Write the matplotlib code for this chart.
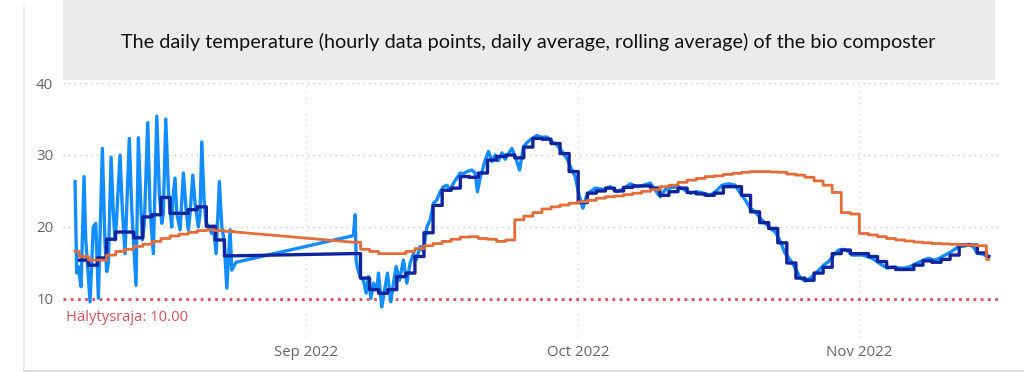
import numpy as np
import pandas as pd
import matplotlib
matplotlib.use("Agg")
import matplotlib.pyplot as plt
from matplotlib.patches import Rectangle
from matplotlib.lines import Line2D

# ---------------- data ----------------
BASE = pd.Timestamp("2022-08-01")

# hourly readings: time in days since 2022-08-01, temperature in °C
hourly_day = [
    5.53, 5.71, 5.89, 6.19, 6.52, 6.71, 6.82, 7.18, 7.54, 7.81, 8.10, 8.54, 8.83, 9.02,
    9.20, 9.50, 9.75, 9.94, 10.12, 10.49, 10.74, 11.04, 11.51, 11.78, 12.25, 12.51,
    12.80, 12.95, 13.17, 13.54, 13.80, 14.16, 14.54, 14.82, 15.09, 15.26, 15.53, 15.82,
    16.00, 16.19, 16.30, 16.55, 16.74, 17.11, 17.47, 17.77, 18.02, 18.21, 18.51, 18.76,
    19.12, 19.31, 19.50, 19.75, 19.97, 20.23, 20.60, 20.78, 21.08, 21.44, 21.71, 21.96,
    22.26, 22.62, 22.81, 23.28,
    36.04, 36.22, 36.41, 36.52, 36.66, 36.96, 37.32, 37.62, 37.87, 38.14, 38.43, 38.80,
    38.98, 39.35, 39.72, 39.97, 40.34, 40.63, 40.93, 41.29, 41.73, 42.11, 42.47, 42.84,
    43.13, 43.58, 43.94, 44.31, 44.68, 45.04, 45.42, 45.78, 46.15, 46.52, 46.88, 47.25,
    47.62, 47.99, 48.35, 48.73, 49.28, 49.64, 49.89, 50.19, 50.75, 51.11, 51.48, 51.85,
    52.21, 52.59, 52.95, 53.31, 53.69, 54.05, 54.53, 54.97, 55.34, 55.90, 56.45, 57.00,
    57.55, 58.10, 58.65, 59.20, 59.76, 60.31, 60.67, 61.04, 61.52, 61.89, 62.33, 62.88,
    63.43, 63.79, 64.53, 65.27, 66.00, 66.74, 67.48, 68.21, 68.94, 69.68, 70.05, 70.60,
    71.34, 72.07, 72.80, 73.36, 74.09, 74.82, 75.56, 76.30, 76.85, 77.58, 78.32, 78.87,
    79.42, 79.97, 80.52, 81.07, 81.63, 82.18, 82.73, 83.28, 83.83, 84.38, 84.93, 85.49,
    86.04, 86.59, 86.95, 87.50, 88.06, 88.61, 89.16, 89.71, 90.26, 90.81, 91.19, 91.74,
    92.29, 92.84, 93.39, 93.94, 94.50, 95.05, 95.77, 96.51, 97.06, 97.61, 98.36, 99.08,
    99.64, 100.19, 100.74, 101.29, 101.84, 102.39, 102.95, 103.50, 104.05, 104.60,
    104.97, 105.52, 106.25,
]
hourly_temp = [
    26.3, 13.6, 14.5, 11.7, 27.0, 18.2, 16.3, 9.6, 20.0, 20.5, 10.1, 30.9, 17.7, 13.8,
    15.0, 29.7, 21.9, 18.2, 21.4, 30.0, 22.4, 16.3, 32.3, 22.4, 11.9, 32.4,
    22.4, 18.2, 20.5, 34.5, 22.4, 16.3, 35.4, 24.7, 20.5, 21.9, 35.0, 25.1,
    22.4, 20.0, 23.7, 26.8, 21.9, 19.6, 27.5, 22.4, 19.6, 21.9, 27.2, 23.3,
    20.0, 21.9, 31.8, 23.7, 20.7, 20.0, 19.1, 20.0, 16.3, 26.3, 20.0, 18.2,
    11.5, 19.6, 14.0, 15.1,
    18.75, 18.9, 21.7, 15.4, 14.3, 13.1, 12.6, 10.8, 13.1, 10.1, 12.2, 11.25,
    13.6, 8.9, 11.7, 13.6, 9.6, 12.2, 14.5, 12.6, 15.4, 12.2, 15.0, 16.3,
    15.4, 17.3, 16.6, 20.0, 21.0, 23.3, 23.75, 24.9, 25.6, 25.8, 25.1, 26.1,
    26.8, 27.5, 27.4, 27.7, 27.9, 27.5, 24.9, 26.8, 29.3, 30.5, 29.1, 30.0,
    29.2, 30.3, 29.4, 30.2, 30.9, 29.8, 27.9, 31.15, 31.7, 32.3, 32.7, 32.45,
    32.5, 31.85, 31.4, 30.5, 29.5, 27.9, 27.0, 24.7, 22.6, 24.2, 24.9, 25.4,
    25.3, 25.2, 25.6, 24.9, 25.3, 26.0, 25.6, 25.8, 26.1, 24.8, 24.2, 25.2,
    25.5, 25.6, 25.1, 24.7, 24.9, 24.7, 24.4, 25.1, 25.8, 26.0, 25.8, 24.7,
    23.75, 22.6, 22.1, 21.2, 20.5, 19.8, 19.3, 18.0, 16.3, 15.4, 14.3, 12.9,
    12.5, 12.9, 13.3, 14.0, 14.7, 15.2, 16.1, 16.8, 16.9, 16.6, 16.1, 16.1,
    16.1, 15.9, 15.65, 15.2, 14.7, 14.3, 14.4, 14.3, 14.3, 14.5, 15.0, 15.4,
    15.65, 15.4, 15.6, 16.0, 16.35, 16.8, 17.3, 17.3, 17.6, 17.2,
    16.35, 16.25, 15.9,
]

# daily average
daily_dates = list(pd.date_range("2022-08-07", "2022-08-24")) + \
              list(pd.date_range("2022-09-06", "2022-11-15"))
daily_avg = [
    15.4, 14.7, 15.7, 18.3, 19.3, 19.3, 18.5, 21.4, 21.7, 24.1, 21.9, 21.9, 22.4, 22.8,
    20.1, 18.2, 16.0, 16.0,
    16.3, 12.9, 11.3, 10.8, 11.3, 13.1, 13.6, 15.9, 19.2, 23.0, 25.1, 25.4, 27.0, 26.9,
    27.5, 29.3, 29.8, 30.0, 29.6, 31.1, 32.3, 32.2, 31.6, 30.2, 27.7,
    23.4, 24.7, 25.0, 25.4, 25.0, 25.5, 25.7, 25.7, 25.4, 24.4, 24.9, 25.4, 24.8, 24.6,
    24.4, 24.7, 25.6, 25.6, 24.4, 22.1, 20.6, 19.8, 17.8, 15.0, 12.9, 12.6, 13.6, 14.4,
    16.3, 16.8, 16.3,
    16.3, 15.9, 15.2, 14.4, 14.1, 14.1, 14.7, 15.3, 15.1, 15.5, 16.1, 17.5, 17.5, 16.4,
    15.9,
]

# rolling average
rolling_dates = list(pd.date_range("2022-08-06", "2022-08-24")) + \
                list(pd.date_range("2022-09-06", "2022-11-15"))
rolling_avg = [
    16.6, 15.9, 15.4, 15.4, 16.1, 16.6, 16.9, 17.3, 17.6, 18.0, 18.4, 18.75, 19.0, 19.25,
    19.5, 19.6, 19.5, 19.4, 19.3,
    17.9, 16.9, 16.6, 16.3, 16.3, 16.3, 16.6, 17.0, 17.4, 17.7, 18.0, 18.3, 18.6, 18.65,
    18.4, 18.3, 18.0, 18.2, 21.0, 21.5, 22.0, 22.5, 22.8, 23.05, 23.3,
    23.5, 23.7, 24.0, 24.2, 24.3, 24.5, 24.7, 24.95, 25.2, 25.6, 25.8, 26.2, 26.5, 26.75,
    27.0, 27.1, 27.3, 27.45, 27.6, 27.7, 27.7, 27.65, 27.6, 27.35, 27.2, 26.9, 26.4,
    25.8, 24.8, 22.0, 21.8,
    19.1, 18.9, 18.65, 18.4, 18.2, 18.05, 17.9, 17.8, 17.7, 17.65, 17.6, 17.5, 17.45,
    17.4, 15.5,
]

alarm_level = 10.0
alarm_label = "Hälytysraja: 10.00"
title_text = ("The daily temperature (hourly data points, daily average, "
              "rolling average) of the bio composter")
y_ticks = [10, 20, 30, 40]
x_tick_dates = ["2022-09-01", "2022-10-01", "2022-11-01"]
x_tick_labels = ["Sep 2022", "Oct 2022", "Nov 2022"]

# ---------------- helpers ----------------
hourly_t = [BASE + pd.Timedelta(days=d) for d in hourly_day]

# contiguous measurement segments (split at gaps longer than 2 days)
seg_bounds = []
start = 0
for i in range(1, len(hourly_day)):
    if hourly_day[i] - hourly_day[i - 1] > 2:
        seg_bounds.append((hourly_t[start], hourly_t[i - 1]))
        start = i
seg_bounds.append((hourly_t[start], hourly_t[-1]))


def step_xy(dates, vals):
    xs, ys = [], []
    for d, v in zip(dates, vals):
        d0, d1 = d, d + pd.Timedelta(days=1)
        for s, e in seg_bounds:
            if d0 < e and d1 > s:
                d0, d1 = max(d0, s), min(d1, e)
                break
        xs += [d0.to_pydatetime(), d1.to_pydatetime()]
        ys += [v, v]
    return xs, ys


# ---------------- figure ----------------
W, H = 1024, 372
fig = plt.figure(figsize=(W / 100, H / 100), dpi=100)
fig.patch.set_facecolor("white")

# card edges (left hairline and bottom shadow)
fig.lines.append(Line2D([23.5 / W, 23.5 / W], [3 / H, 1 - 5 / H], transform=fig.transFigure,
                        color="#EEEEEE", lw=1.2))
fig.patches.append(Rectangle((23 / W, 0.0), 1.0, 2.5 / H, transform=fig.transFigure,
                             facecolor="#E0E0E0", edgecolor="none"))

# title band
fig.patches.append(Rectangle((63 / W, 1 - 80 / H), 932 / W, 80 / H, transform=fig.transFigure,
                             facecolor="#EBEBEB", edgecolor="none", zorder=1))
fig.text(528 / W, 1 - 42 / H, title_text, ha="center", va="center",
         fontsize=14.3, family="Lato", color="#111111")

ax = fig.add_axes([63 / W, (H - 337) / H, 937 / W, (337 - 83) / H])
ax.set_facecolor("none")
for sp in ax.spines.values():
    sp.set_visible(False)

ax.set_xlim((BASE + pd.Timedelta(days=4.2)).to_pydatetime(),
            (BASE + pd.Timedelta(days=107.5)).to_pydatetime())
ax.set_ylim(4.72, 40)

# gridlines
for yv in [20, 30, 40]:
    ax.axhline(yv, color="#C8C8C8", lw=1.0, linestyle=(0, (1, 3)), zorder=1)
for xd in x_tick_dates:
    ax.axvline(pd.Timestamp(xd).to_pydatetime(), color="#DADADA", lw=1.0,
               linestyle=(0, (1, 3)), zorder=1)

# series
ax.plot([t.to_pydatetime() for t in hourly_t], hourly_temp, color="#118DFF", lw=2.4,
        solid_joinstyle="round", zorder=3)
dx, dy = step_xy(daily_dates, daily_avg)
ax.plot(dx, dy, color="#12239E", lw=2.4, zorder=4)
rx, ry = step_xy(rolling_dates, rolling_avg)
ax.plot(rx, ry, color="#E66C37", lw=2.0, zorder=5)

# alarm line
ax.axhline(alarm_level, color="#DE4B5B", lw=2.0, linestyle=(0, (1, 1.6)), zorder=2)
ax.text(0.003, 7.4, alarm_label, transform=ax.get_yaxis_transform(), ha="left", va="center",
        fontsize=10.6, family="Open Sans", color="#D9505F")

# ticks
ax.set_yticks(y_ticks)
ax.set_yticklabels([str(v) for v in y_ticks], family="Open Sans", fontsize=10.8, color="#666666")
ax.set_xticks([pd.Timestamp(d).to_pydatetime() for d in x_tick_dates])
ax.set_xticklabels(x_tick_labels, family="Open Sans", fontsize=10.8, color="#666666")
ax.tick_params(axis="both", length=0)
ax.tick_params(axis="y", pad=7)
ax.tick_params(axis="x", pad=6)

fig.savefig("out.png", dpi=100)
